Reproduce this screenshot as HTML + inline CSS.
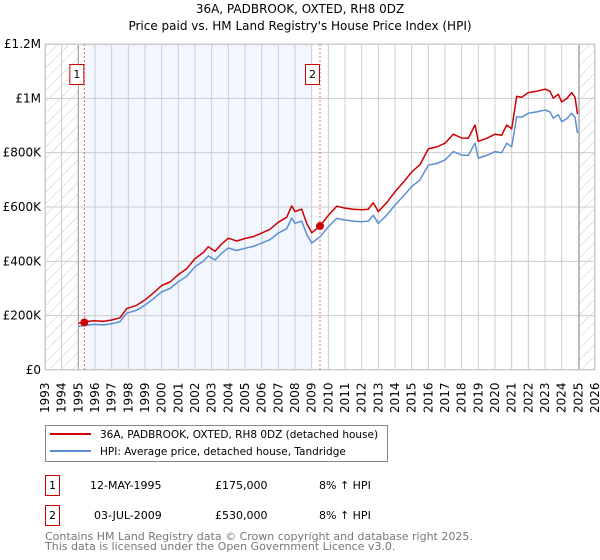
<!DOCTYPE html>
<html><head><meta charset="utf-8"><style>
body{margin:0;background:#fff;font-family:"DejaVu Sans","Liberation Sans",sans-serif;}
svg{display:block}
</style></head><body>
<svg id="chart" width="600" height="560" xmlns="http://www.w3.org/2000/svg" font-family="DejaVu Sans, Liberation Sans, sans-serif">
<defs>
<pattern id="hatch" patternUnits="userSpaceOnUse" width="8" height="8" patternTransform="rotate(45)">
<line x1="0" y1="0" x2="0" y2="8" stroke="#ccc" stroke-width="1"/>
</pattern>
</defs>
<text x="300" y="13" text-anchor="middle" font-size="12" fill="#000">36A, PADBROOK, OXTED, RH8 0DZ</text>
<text x="300" y="30" text-anchor="middle" font-size="12" fill="#000">Price paid vs. HM Land Registry's House Price Index (HPI)</text>
<g id="plot"></g>
<g>
<rect x="45.5" y="425.5" width="342" height="36" fill="#fff" stroke="#888"/>
<line x1="50" y1="434" x2="91" y2="434" stroke="#cc0000" stroke-width="2"/>
<text x="100" y="438" font-size="10.5">36A, PADBROOK, OXTED, RH8 0DZ (detached house)</text>
<line x1="50" y1="451" x2="91" y2="451" stroke="#5b8fd4" stroke-width="2"/>
<text x="100" y="455" font-size="10.5">HPI: Average price, detached house, Tandridge</text>
</g>
<g font-size="11">
<rect x="45.5" y="475.5" width="14" height="20" fill="#fff" stroke="#cc0000"/>
<text x="52.5" y="489" text-anchor="middle">1</text>
<text x="90" y="489">12-MAY-1995</text>
<text x="215" y="489">£175,000</text>
<text x="319" y="489">8% ↑ HPI</text>
<rect x="45.5" y="505.5" width="14" height="20" fill="#fff" stroke="#cc0000"/>
<text x="52.5" y="519" text-anchor="middle">2</text>
<text x="94" y="519">03-JUL-2009</text>
<text x="215" y="519">£530,000</text>
<text x="319" y="519">8% ↑ HPI</text>
</g>
<g font-size="11" fill="#777">
<text x="45" y="540">Contains HM Land Registry data © Crown copyright and database right 2025.</text>
<text x="45" y="550">This data is licensed under the Open Government Licence v3.0.</text>
</g>
</svg>
<script>
const years=[1993,1994,1995,1996,1997,1998,1999,2000,2001,2002,2003,2004,2005,2006,2007,2008,2009,2010,2011,2012,2013,2014,2015,2016,2017,2018,2019,2020,2021,2022,2023,2024,2025,2026];
const yTicks=[0,200000,400000,600000,800000,1000000,1200000];
const yTickLabels=["£0","£200K","£400K","£600K","£800K","£1M","£1.2M"];
const hpiDates=[1995.0,1995.4,1996,1996.5,1997,1997.5,1997.9,1998.5,1999,1999.5,2000,2000.5,2001,2001.5,2002,2002.5,2002.8,2003.2,2003.6,2004,2004.5,2005,2005.5,2006,2006.5,2007,2007.5,2007.8,2008,2008.4,2008.7,2009.0,2009.5,2010,2010.5,2011,2011.5,2012,2012.4,2012.7,2013,2013.5,2014,2014.5,2015,2015.5,2016,2016.5,2017,2017.5,2018,2018.4,2018.8,2019,2019.5,2020,2020.4,2020.7,2021,2021.3,2021.6,2022,2022.5,2023,2023.3,2023.5,2023.8,2024,2024.3,2024.6,2024.8,2024.95];
const hpiValues=[160000,165000,168000,166000,170000,178000,209000,220000,239000,262000,288000,300000,325000,345000,380000,400000,420000,405000,430000,449000,440000,448000,455000,467000,480000,504000,520000,559000,540000,548000,500000,467000,490000,527000,558000,552000,548000,546000,548000,570000,540000,570000,607000,640000,675000,700000,754000,760000,773000,804000,791000,790000,835000,780000,790000,804000,800000,835000,822000,932000,930000,945000,950000,957000,950000,927000,940000,914000,925000,945000,930000,872000];
const ppDates=hpiDates;
const ppValues=[172000,178000,181000,179000,184000,192000,226000,238000,258000,283000,311000,324000,351000,373000,410000,432000,454000,437000,464000,485000,475000,484000,491000,504000,518000,544000,562000,604000,583000,592000,540000,505000,530000,569000,603000,596000,592000,590000,592000,616000,583000,616000,656000,691000,729000,756000,814000,821000,835000,868000,854000,853000,902000,842000,853000,868000,864000,902000,888000,1007000,1004000,1021000,1026000,1034000,1026000,1001000,1015000,987000,999000,1021000,1004000,942000];
const saleDates=[1995.36,2009.5];
const salePrices=[175000,530000];
const saleLabels=["1","2"];

const NS="http://www.w3.org/2000/svg";
const X0=45,X1=595,Y0=370,Y1=44;
const xS=v=>X0+(v-1993)/(2026-1993)*(X1-X0);
const yS=v=>Y0-v/1200000*(Y0-Y1);
const plot=document.getElementById('plot');
function mk(tag,attrs,parent){const e=document.createElementNS(NS,tag);for(const k in attrs)e.setAttribute(k,attrs[k]);(parent||plot).appendChild(e);return e;}

const bg=mk('rect',{x:X0,y:Y1,width:X1-X0,height:Y0-Y1,fill:'#fff'});


const shade=mk('rect',{x:xS(saleDates[0]),y:Y1,width:xS(2009.0)-xS(saleDates[0]),height:Y0-Y1,fill:'#f2f6fe'});


const h1=mk('rect',{x:X0,y:Y1,width:xS(1995)-X0,height:Y0-Y1,fill:'url(#hatch)'});


const h2=mk('rect',{x:xS(2025.05),y:Y1,width:X1-xS(2025.05),height:Y0-Y1,fill:'url(#hatch)'});



years.forEach(y=>{
  const x=xS(y);
  const g=mk('line',{x1:x,x2:x,y1:Y1,y2:Y0,stroke:'#ccc','stroke-width':1});
  
  
  const t=mk('text',{x:0,y:0,transform:`translate(${x+4},413) rotate(-90)`,'font-size':12,fill:'#000'});
  t.textContent=y;
  
  
});
yTicks.forEach((v,i)=>{
  const y=yS(v);
  const g=mk('line',{x1:X0,x2:X1,y1:y,y2:y,stroke:'#ccc','stroke-width':1});
  
  
  const t=mk('text',{x:41,y:y+4,'text-anchor':'end','font-size':12,fill:'#000'});
  t.textContent=yTickLabels[i];
  
  
});
[xS(1995),xS(2025.05)].forEach(x=>{
  const l=mk('line',{x1:x,x2:x,y1:Y1,y2:Y0,stroke:'#999','stroke-width':1});
  
  
});
const frame=mk('rect',{x:X0+0.5,y:Y1+0.5,width:X1-X0-1,height:Y0-Y1-1,fill:'none',stroke:'#ccc'});



saleDates.forEach((d,i)=>{
  const x=xS(d);
  const l=mk('line',{x1:x,x2:x,y1:Y1,y2:Y0,stroke:'#e66','stroke-width':1,'stroke-dasharray':'2,2'});
  
  
  const b=mk('rect',{x:x-14.5,y:64.5,width:14,height:20,fill:'#fff',stroke:'#cc0000'});
  
  
  const t=mk('text',{x:x-7.5,y:78,'text-anchor':'middle','font-size':11});
  t.textContent=saleLabels[i];
  
  
});

const pts=(ds,vs)=>ds.map((d,i)=>xS(d).toFixed(1)+','+yS(vs[i]).toFixed(1)).join(' ');
const hpi=mk('polyline',{points:pts(hpiDates,hpiValues),fill:'none',stroke:'#5b8fd4','stroke-width':1.5,'stroke-linejoin':'round'});


const pp=mk('polyline',{points:pts(ppDates,ppValues),fill:'none',stroke:'#cc0000','stroke-width':1.5,'stroke-linejoin':'round'});


saleDates.forEach((d,i)=>{
  const c=mk('circle',{cx:xS(d),cy:yS(salePrices[i]),r:4,fill:'#cc0000'});
  
  
});
</script>
</body></html>
